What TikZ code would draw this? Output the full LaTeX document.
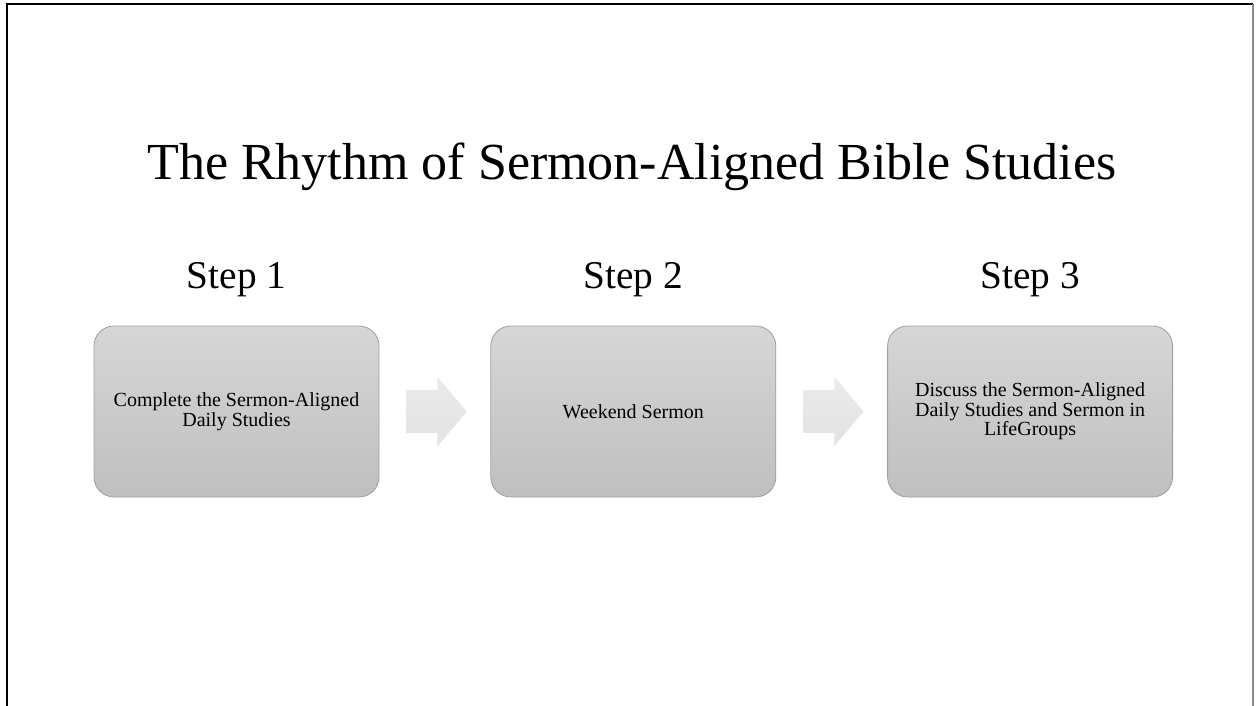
\documentclass[tikz,border=0pt]{standalone}
\usepackage{fontspec}
\setmainfont{Liberation Serif}
\usepackage{tikz}
\usetikzlibrary{positioning}
\usetikzlibrary{shapes.arrows}
\tikzset{
  stepbox/.style = {draw = black!38, line width = 0.6pt, rounded corners = 15pt,
    top color = black!16, bottom color = black!25,
    minimum width = 213.75pt, minimum height = 128.25pt, align = center,
    font = \fontsize{15pt}{13.4pt}\selectfont},
  steplabel/.style = {font = \fontsize{29.5pt}{34pt}\selectfont, anchor = base},
  flowarrow/.style = {single arrow, draw = none, top color = black!8, bottom color = black!11,
    inner xsep = 0pt, inner ysep = 15.75pt, minimum height = 45pt, anchor = tail,
    single arrow head extend = 10.125pt, single arrow tip angle = 100},
  node distance = 83.25pt
}

\begin{document}
\begin{tikzpicture}[x = 0.75pt, y = -0.75pt]
    \useasboundingbox (0,0) rectangle (1257,706);
    % slide frame
    \draw [line width = 1.6pt] (7,706) |- (1253,4);
    \draw [black!45, line width = 0.8pt] (1253,4) -- (1253,706);
    \node [anchor = base, font = \fontsize{39pt}{46pt}\selectfont] (title) at (632,180) {The Rhythm of Sermon-Aligned Bible Studies};
    % steps
    \node [stepbox] (b1) at (236.5,411.5) {Complete the Sermon-Aligned\\Daily Studies};
    \node [stepbox, right = of b1] (b2) {Weekend Sermon};
    \node [stepbox, right = of b2] (b3) {Discuss the Sermon-Aligned\\Daily Studies and Sermon in\\LifeGroups};
    \node [steplabel] (l1) at ([yshift = 27.75pt] b1.north) {Step 1};
    \node [steplabel] (l2) at ([yshift = 27.75pt] b2.north) {Step 2};
    \node [steplabel] (l3) at ([yshift = 27.75pt] b3.north) {Step 3};
    % arrows
    \node [flowarrow] (a1) at ([xshift = 20.25pt] b1.east) {};
    \node [flowarrow] (a2) at ([xshift = 20.25pt] b2.east) {};
  \end{tikzpicture}
\end{document}
